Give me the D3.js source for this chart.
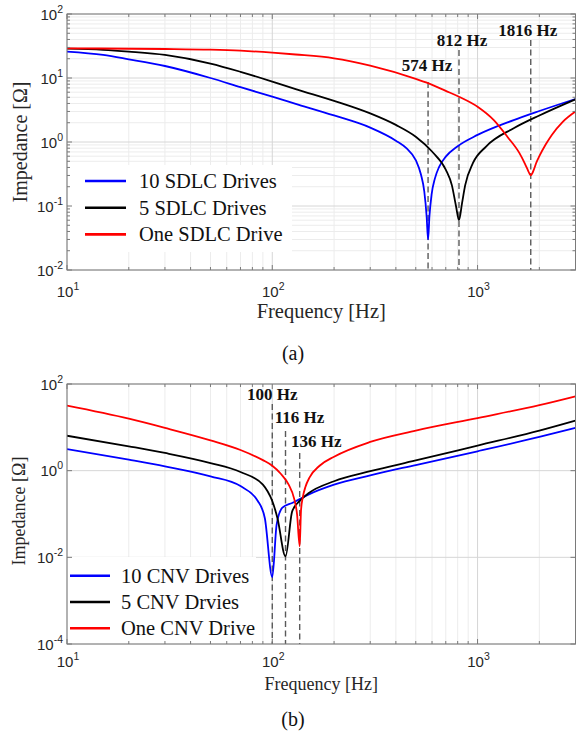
<!DOCTYPE html>
<html lang="en">
<head>
<meta charset="utf-8"/>
<title>Impedance vs frequency</title>
<script src="https://cdn.jsdelivr.net/npm/d3@7"></script>
<style>
    body { margin: 0; background: #fff; }
    svg { display: block; }
</style>
</head>
<body>
<script>
    // impedance curves, [frequency Hz, impedance Ohm]
    const sdlcTen = [[10, 25.8], [15, 22.9], [20, 19.6], [30, 15.4], [50, 10.0], [70, 7.2], [100, 5.1], [130, 3.95],
        [200, 2.6], [300, 1.68], [400, 1.05], [450, 0.8], [500, 0.52], [530, 0.31], [550, 0.17], [565, 0.068],
        [574, 0.03], [583, 0.07], [597, 0.15], [620, 0.27], [650, 0.41], [700, 0.59], [800, 0.86], [1000, 1.29],
        [1500, 2.2], [2000, 3.05], [3000, 4.7]];
    const sdlcFive = [[10, 28.7], [15, 27.5], [20, 25.8], [30, 22.9], [50, 16.8], [70, 12.5], [100, 8.8], [130, 6.7],
        [200, 4.4], [300, 2.8], [400, 1.85], [500, 1.21], [600, 0.71], [700, 0.37], [750, 0.21], [785, 0.1],
        [812, 0.06], [840, 0.11], [870, 0.21], [950, 0.47], [1100, 0.85], [1500, 1.64], [2000, 2.6], [3000, 4.65]];
    const sdlcOne = [[10, 29], [30, 28.4], [50, 27.7], [70, 26.7], [100, 24.9], [130, 23.3], [200, 20.3], [300, 15.6],
        [500, 9.7], [574, 8.3], [700, 6.3], [812, 5.1], [1000, 3.56], [1200, 2.2], [1400, 1.2], [1600, 0.67],
        [1700, 0.46], [1760, 0.36], [1790, 0.32], [1816, 0.30], [1845, 0.32], [1880, 0.37], [1940, 0.49],
        [2000, 0.6], [2150, 0.92], [2300, 1.29], [2600, 2.07], [3000, 3.0]];

    const cnvTen = [[10, 3.16], [20, 1.8], [30, 1.26], [50, 0.74], [70, 0.44], [85, 0.2], [92, 0.08], [100, 0.0035],
        [105, 0.057], [112, 0.14], [125, 0.18], [136, 0.22], [150, 0.28], [200, 0.475], [300, 0.78], [500, 1.35],
        [1000, 2.8], [2000, 6.0], [3000, 9.7]];
    const cnvFive = [[10, 6.4], [20, 3.65], [30, 2.56], [50, 1.5], [70, 0.93], [90, 0.475], [95, 0.33], [100, 0.2],
        [106, 0.08], [116, 0.0105], [125, 0.115], [136, 0.2], [150, 0.3], [200, 0.57], [300, 0.97], [500, 1.72],
        [1000, 3.8], [2000, 8.4], [3000, 14.3]];
    const cnvOne = [[10, 31.6], [20, 15.8], [30, 9.7], [50, 5.0], [70, 3.0], [90, 1.75], [100, 1.3], [110, 0.85],
        [120, 0.48], [128, 0.22], [132, 0.1], [136, 0.018], [138, 0.12], [141, 0.25], [145, 0.42], [152, 0.7],
        [170, 1.3], [200, 2.1], [300, 4.6], [500, 8.4], [1000, 16.4], [2000, 32.5], [3000, 52]];

    const freqTicks = [10, 100, 1000];
    const topZTicks = [1e-2, 1e-1, 1, 10, 100];
    const bottomZTicks = [1e-4, 1e-2, 1, 100];
    const topResonance = [574, 812, 1816];
    const bottomResonance = [100, 116, 136];
    const topNames = ["10 SDLC Drives", "5 SDLC Drives", "One SDLC Drive"];
    const bottomNames = ["10 CNV Drives", "5 CNV Drvies", "One CNV Drive"];
    const colors = ["#0000ff", "#000000", "#ff0000"];

    const W = 576, H = 735;
    const serif = "'Liberation Serif', 'Times New Roman', serif";
    const sans = "'Liberation Sans', Arial, sans-serif";

    const svg = d3.select("body").append("svg")
        .attr("width", W)
        .attr("height", H);
    svg.append("rect").attr("width", W).attr("height", H).attr("fill", "#fff");

    // one MATLAB-like log-log panel
    function drawPanel(p) {
        const x = d3.scaleLog().domain([10, 3000]).range([p.left, p.right]);
        const y = d3.scaleLog().domain(p.zDomain).range([p.bottom, p.top]);
        const g = svg.append("g");
        const clipId = "clip" + p.id;
        g.append("clipPath").attr("id", clipId)
            .append("rect")
            .attr("x", p.left).attr("y", p.top)
            .attr("width", p.right - p.left).attr("height", p.bottom - p.top);

        const xMinor = x.ticks().filter(d => freqTicks.indexOf(d) < 0);
        const yMinor = p.yMinor ? y.ticks().filter(d => p.zTicks.indexOf(d) < 0) : [];

        // grid
        g.append("g").selectAll("line").data(xMinor).join("line")
            .attr("x1", d => x(d)).attr("x2", d => x(d))
            .attr("y1", p.top).attr("y2", p.bottom)
            .attr("stroke", "#ececec").attr("stroke-width", 1);
        g.append("g").selectAll("line").data(yMinor).join("line")
            .attr("y1", d => y(d)).attr("y2", d => y(d))
            .attr("x1", p.left).attr("x2", p.right)
            .attr("stroke", "#ececec").attr("stroke-width", 1);
        g.append("g").selectAll("line").data(freqTicks).join("line")
            .attr("x1", d => x(d)).attr("x2", d => x(d))
            .attr("y1", p.top).attr("y2", p.bottom)
            .attr("stroke", "#d6d6d6").attr("stroke-width", 1);
        g.append("g").selectAll("line").data(p.zTicks).join("line")
            .attr("y1", d => y(d)).attr("y2", d => y(d))
            .attr("x1", p.left).attr("x2", p.right)
            .attr("stroke", "#d6d6d6").attr("stroke-width", 1);

        // resonance markers
        g.append("g").selectAll("line").data(p.marks).join("line")
            .attr("x1", d => x(d)).attr("x2", d => x(d))
            .attr("y1", (d, i) => p.markLayout[i].y0).attr("y2", p.bottom)
            .attr("stroke", "#5a5a5a").attr("stroke-width", 1.4)
            .attr("stroke-dasharray", "6,3.5");
        g.append("g").selectAll("text").data(p.marks).join("text")
            .attr("x", (d, i) => x(d) + p.markLayout[i].dx)
            .attr("y", (d, i) => p.markLayout[i].y)
            .attr("text-anchor", "middle")
            .attr("font-family", serif).attr("font-weight", "bold")
            .attr("font-size", 17).attr("fill", "#111")
            .text(d => d + " Hz");

        // curves
        const line = d3.line()
            .x(d => x(d[0]))
            .y(d => y(d[1]))
            .curve(d3.curveMonotoneX);
        g.append("g").attr("clip-path", `url(#${clipId})`)
            .selectAll("path").data(p.series).join("path")
            .attr("d", line)
            .attr("fill", "none")
            .attr("stroke", (d, i) => colors[i])
            .attr("stroke-width", 1.8);

        // legend
        const lg = p.legend;
        g.append("rect")
            .attr("x", lg.x0).attr("y", lg.y0)
            .attr("width", lg.x1 - lg.x0).attr("height", lg.y1 - lg.y0)
            .attr("fill", "#fff");
        const rows = g.append("g").selectAll("g").data(p.names).join("g")
            .attr("transform", (d, i) => `translate(0,${lg.firstRow + i * lg.rowStep})`);
        rows.append("line")
            .attr("x1", lg.lineX0).attr("x2", lg.lineX1)
            .attr("stroke", (d, i) => colors[i]).attr("stroke-width", 2.6);
        rows.append("text")
            .attr("x", lg.textX).attr("y", 6.8)
            .attr("font-family", serif).attr("font-size", lg.fontSize).attr("fill", "#111")
            .text(d => d);

        // box and ticks
        g.append("rect")
            .attr("x", p.left).attr("y", p.top)
            .attr("width", p.right - p.left).attr("height", p.bottom - p.top)
            .attr("fill", "none").attr("stroke", "#7a7a7a").attr("stroke-width", 1);
        const tickG = g.append("g").attr("stroke", "#7a7a7a").attr("stroke-width", 1);
        const xAll = freqTicks.map(d => [d, 5]).concat(xMinor.map(d => [d, 3]));
        xAll.forEach(([d, len]) => {
            tickG.append("line").attr("x1", x(d)).attr("x2", x(d)).attr("y1", p.bottom).attr("y2", p.bottom - len);
            tickG.append("line").attr("x1", x(d)).attr("x2", x(d)).attr("y1", p.top).attr("y2", p.top + len);
        });
        const yAll = p.zTicks.map(d => [d, 5]).concat(yMinor.map(d => [d, 3]));
        yAll.forEach(([d, len]) => {
            tickG.append("line").attr("y1", y(d)).attr("y2", y(d)).attr("x1", p.left).attr("x2", p.left + len);
            tickG.append("line").attr("y1", y(d)).attr("y2", y(d)).attr("x1", p.right).attr("x2", p.right - len);
        });

        // tick labels as 10^n
        function powLabel(sel, v) {
            const e = Math.round(Math.log10(v));
            sel.append("tspan").text("10");
            sel.append("tspan").attr("dy", -7).attr("font-size", 10.5).text(String(e));
        }
        freqTicks.forEach(d => {
            const t = g.append("text")
                .attr("x", x(d) + 1).attr("y", p.xLabelY)
                .attr("text-anchor", "middle")
                .attr("font-family", sans).attr("font-size", 15).attr("fill", "#262626");
            powLabel(t, d);
        });
        p.zTicks.forEach(d => {
            const t = g.append("text")
                .attr("x", 63).attr("y", y(d) + 5.5)
                .attr("text-anchor", "end")
                .attr("font-family", sans).attr("font-size", 15).attr("fill", "#262626");
            powLabel(t, d);
        });

        // axis titles and caption
        g.append("text")
            .attr("x", (p.left + p.right) / 2).attr("y", p.xTitleY)
            .attr("text-anchor", "middle")
            .attr("font-family", serif).attr("font-size", p.titleSize).attr("fill", "#262626")
            .text("Frequency [Hz]");
        g.append("text")
            .attr("transform", `translate(${p.yTitleX},${p.yTitleMid}) rotate(-90)`)
            .attr("text-anchor", "middle")
            .attr("font-family", serif).attr("font-size", p.yTitleSize).attr("fill", "#262626")
            .text("Impedance [\u03A9]");
        g.append("text")
            .attr("x", 293).attr("y", p.captionY)
            .attr("text-anchor", "middle")
            .attr("font-family", serif).attr("font-size", 20).attr("fill", "#111")
            .text(p.caption);
    }

    drawPanel({
        id: "a", left: 67, right: 575.5, top: 14, bottom: 270,
        zDomain: [1e-2, 1e2], zTicks: topZTicks, yMinor: true,
        series: [sdlcTen, sdlcFive, sdlcOne], names: topNames,
        marks: topResonance,
        markLayout: [{dx: -1, y: 71, y0: 82}, {dx: 3, y: 46, y0: 50}, {dx: -3, y: 36, y0: 40}],
        legend: {x0: 68, x1: 292, y0: 165, y1: 252, firstRow: 181, rowStep: 26.7,
            lineX0: 85, lineX1: 126, textX: 139, fontSize: 20.5},
        xLabelY: 297, xTitleY: 318, titleSize: 20.5,
        yTitleX: 27, yTitleMid: 142, yTitleSize: 20,
        captionY: 360, caption: "(a)"
    });

    drawPanel({
        id: "b", left: 67, right: 575.5, top: 384, bottom: 644,
        zDomain: [1e-4, 1e2], zTicks: bottomZTicks, yMinor: false,
        series: [cnvTen, cnvFive, cnvOne], names: bottomNames,
        marks: bottomResonance,
        markLayout: [{dx: 0, y: 400, y0: 404}, {dx: 14, y: 423, y0: 431}, {dx: 16.5, y: 447, y0: 453}],
        legend: {x0: 68, x1: 256, y0: 557, y1: 643, firstRow: 575.7, rowStep: 26.3,
            lineX0: 70, lineX1: 110, textX: 121, fontSize: 20.5},
        xLabelY: 667, xTitleY: 690, titleSize: 18,
        yTitleX: 25, yTitleMid: 511, yTitleSize: 18,
        captionY: 726, caption: "(b)"
    });
</script>
</body>
</html>
